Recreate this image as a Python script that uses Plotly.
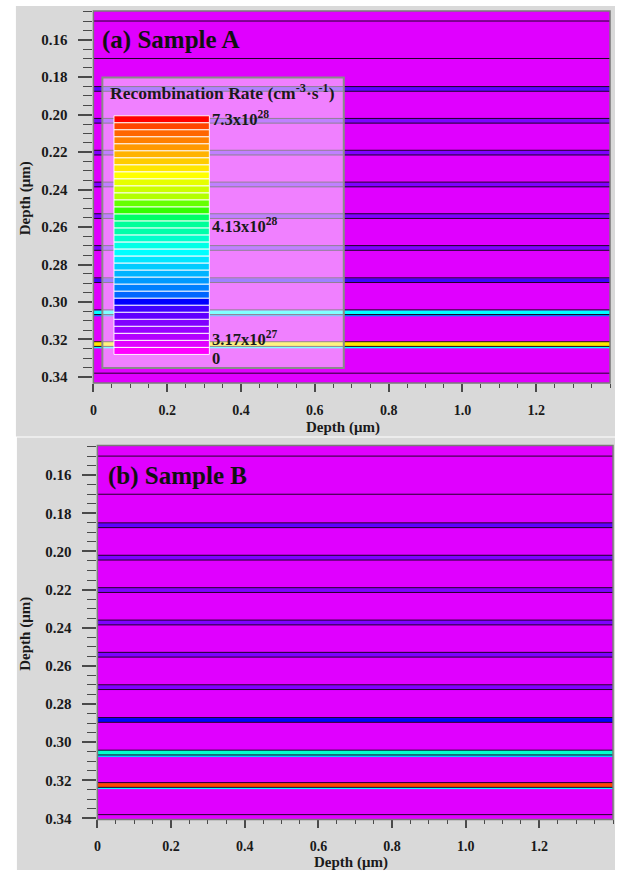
import plotly.graph_objects as go

W, H = 617, 877

# ---------------- data ----------------
x_extent = [0.0, 1.4]                       # lateral extent of the device (um)
region_lines = [0.1500, 0.1700, 0.3380]     # region boundaries other than the wells (um)
qw_top = [0.1850, 0.2020, 0.2190, 0.2360, 0.2529, 0.2699, 0.2871, 0.3042, 0.3212]  # well top depths (um)
qw_thick = 0.0025                           # well thickness (um)
tail_thick = 0.0009                         # thin interpolated layer below a well (um)
barrier_rate = 3.2e27                       # recombination rate in barriers (cm^-3 s^-1)

# recombination rate in each well (cm^-3 s^-1)
rate_a = [1.18e28, 0.95e28, 0.95e28, 0.95e28, 0.95e28, 0.95e28, 1.40e28, 3.10e28, 5.70e28]
rate_b = [1.18e28, 0.95e28, 0.95e28, 0.95e28, 0.95e28, 0.95e28, 1.60e28, 3.55e28, 6.95e28]
# rate just below each well (None = same as barrier)
tail_a = [None, None, None, None, None, None, None, 2.00e28, 3.10e28]
tail_b = [None, None, None, None, None, None, None, 2.60e28, 3.10e28]

rate_max = 7.3e28
legend_values = [7.3e28, 4.13e28, 3.17e27, 0.0]
legend_texts = ["7.3x10<sup>28</sup>", "4.13x10<sup>28</sup>", "3.17x10<sup>27</sup>", "0"]

# 34 colour levels, top (max) to bottom (0)
level_colors = [
    "#ff0000", "#ff4500", "#ff6600", "#ff8000", "#ff9900", "#ffb300", "#ffcc00", "#ffe600",
    "#ffff00", "#e6ff00", "#ccff00", "#b3ff00", "#66ff00", "#33ff00", "#00ff66", "#00ff99",
    "#00ffaa", "#00ffcc", "#00ffe6", "#00ffff", "#00e6ff", "#00ccff", "#00b3ff", "#0099ff",
    "#0080ff", "#0066ff", "#0000ff", "#4000ff", "#6000ff", "#8000ff", "#9900ff", "#b300ff",
    "#e000ff", "#ff00ff",
]

x_tickvals = [0, 0.2, 0.4, 0.6, 0.8, 1.0, 1.2]
x_ticktext = ["0", "0.2", "0.4", "0.6", "0.8", "1.0", "1.2"]

# ---------------- helpers ----------------
def px(x):
    return x / W


def py(y):
    return 1 - y / H


FONT = "Liberation Serif"

levels_up = level_colors[::-1]
n_lev = len(levels_up)
colorscale = []
for i, c in enumerate(levels_up):
    colorscale += [[i / n_lev, c], [(i + 1) / n_lev, c]]


def build_layers(rates, tails):
    edges = [0.14]
    z = []
    for top, r, t in zip(qw_top, rates, tails):
        edges.append(top)
        z.append(barrier_rate)
        edges.append(top + qw_thick)
        z.append(r)
        if t is not None:
            edges.append(top + qw_thick + tail_thick)
            z.append(t)
    edges.append(0.345)
    z.append(barrier_rate)
    return edges, [[v] for v in z]


def boundary_xy():
    depths = region_lines + qw_top + [t + qw_thick for t in qw_top]
    xs, ys = [], []
    for d in depths:
        xs += [x_extent[0], x_extent[1], None]
        ys += [d, d, None]
    return xs, ys


fig = go.Figure()
bx, by = boundary_xy()
for rates, tails, xa, ya in [(rate_a, tail_a, "x", "y"), (rate_b, tail_b, "x2", "y2")]:
    edges, z = build_layers(rates, tails)
    fig.add_trace(go.Heatmap(x=x_extent, y=edges, z=z, colorscale=colorscale, zmin=0, zmax=rate_max,
                             showscale=False, hoverinfo="skip", xaxis=xa, yaxis=ya))
    fig.add_trace(go.Scatter(x=bx, y=by, mode="lines", line=dict(color="#22002a", width=1),
                             hoverinfo="skip", showlegend=False, xaxis=xa, yaxis=ya))

xtickfont = dict(family=FONT, size=14, color="#1a1a1a", weight="bold")
ytickfont = dict(family=FONT, size=15, color="#1a1a1a", weight="bold")
tick_col = "#4a4a4a"


def xaxis_cfg(dom):
    return dict(domain=dom, range=x_extent, tickmode="array", tickvals=x_tickvals, ticktext=x_ticktext,
                ticks="outside", ticklen=8, tickwidth=1.5, tickcolor=tick_col,
                minor=dict(tickmode="linear", tick0=0, dtick=0.05, ticks="outside", ticklen=4,
                           tickwidth=1.2, tickcolor=tick_col),
                tickfont=xtickfont, showgrid=False, zeroline=False, showline=False, ticklabelstandoff=6)


def yaxis_cfg(dom, rng):
    return dict(domain=dom, range=rng, tickmode="linear", tick0=0, dtick=0.02, tickformat=".2f",
                ticks="outside", ticklen=14, tickwidth=1.5, tickcolor=tick_col,
                minor=dict(tickmode="linear", tick0=0, dtick=0.005, ticks="outside", ticklen=9,
                           tickwidth=1.2, tickcolor=tick_col),
                tickfont=ytickfont, showgrid=False, zeroline=False, showline=False, ticklabelstandoff=8)


shapes = [
    dict(type="rect", xref="paper", yref="paper", x0=px(12), x1=px(615), y0=py(440), y1=py(6),
         fillcolor="#d9d9d9", line=dict(width=0), layer="below"),
    dict(type="rect", xref="paper", yref="paper", x0=px(13), x1=px(615), y0=py(877), y1=py(441),
         fillcolor="#d9d9d9", line=dict(width=0), layer="below"),
    dict(type="rect", xref="x domain", yref="y domain", x0=0, x1=1, y0=0, y1=1,
         line=dict(color="#7a7a7a", width=1.5), layer="above"),
    dict(type="rect", xref="x2 domain", yref="y2 domain", x0=0, x1=1, y0=0, y1=1,
         line=dict(color="#7a7a7a", width=1.5), layer="above"),
    # legend box
    dict(type="rect", xref="paper", yref="paper", x0=px(99), x1=px(342), y0=py(371), y1=py(78),
         fillcolor="rgba(255,255,255,0.5)", line=dict(color="#8a8a8a", width=2), layer="above"),
]

# legend swatches
sw_left, sw_right, sw_top, sw_bot = 110.7, 206.7, 116.7, 357.3
sw_h = (sw_bot - sw_top) / len(level_colors)
for i, c in enumerate(level_colors):
    shapes.append(dict(type="rect", xref="paper", yref="paper", x0=px(sw_left), x1=px(sw_right),
                       y0=py(sw_top + (i + 1) * sw_h), y1=py(sw_top + i * sw_h),
                       fillcolor=c, line=dict(color="rgba(255,255,255,0.9)", width=1), layer="above"))

title_font = dict(family=FONT, size=15, color="#1a1a1a", weight="bold")
annotations = [
    dict(text="(a) Sample A", x=px(97), y=py(40), xref="paper", yref="paper", xanchor="left",
         yanchor="middle", showarrow=False, font=dict(family=FONT, size=25, color="#111", weight="bold")),
    dict(text="(b) Sample B", x=px(103), y=py(480), xref="paper", yref="paper", xanchor="left",
         yanchor="middle", showarrow=False, font=dict(family=FONT, size=25, color="#111", weight="bold")),
    dict(text="Recombination Rate (cm<sup>-3</sup>·s<sup>-1</sup>)", x=px(105), y=py(93), xref="paper",
         yref="paper", xanchor="left", yanchor="middle", showarrow=False,
         font=dict(family=FONT, size=17.5, color="#1a1a1a", weight="bold")),
    dict(text="Depth (μm)", x=px(341), y=py(431), xref="paper", yref="paper", showarrow=False,
         xanchor="center", yanchor="middle", font=title_font),
    dict(text="Depth (μm)", x=px(349), y=py(869), xref="paper", yref="paper", showarrow=False,
         xanchor="center", yanchor="middle", font=title_font),
    dict(text="Depth (μm)", x=px(22), y=py(200), xref="paper", yref="paper", showarrow=False,
         xanchor="center", yanchor="middle", textangle=-90, font=title_font),
    dict(text="Depth (μm)", x=px(22), y=py(639), xref="paper", yref="paper", showarrow=False,
         xanchor="center", yanchor="middle", textangle=-90, font=title_font),
]
# vertical nudges (px) that keep the colour-bar labels apart, as in the reference
label_nudge = [3, 6, -6, 4]
for v, t, dy in zip(legend_values, legend_texts, label_nudge):
    ypix = sw_bot - v / rate_max * (sw_bot - sw_top) + dy
    annotations.append(dict(text=t, x=px(207), y=py(ypix), xref="paper", yref="paper",
                            xanchor="left", yanchor="middle", showarrow=False,
                            font=dict(family=FONT, size=16.5, color="#1a1a1a", weight="bold")))

fig.update_layout(
    width=W, height=H, margin=dict(l=0, r=0, t=0, b=0),
    paper_bgcolor="white", plot_bgcolor="rgba(0,0,0,0)", showlegend=False,
    xaxis=xaxis_cfg([px(90), px(610)]),
    yaxis=yaxis_cfg([py(386), py(11)], [0.3432, 0.1446]),
    xaxis2=xaxis_cfg([px(94), px(613)]) | dict(anchor="y2"),
    yaxis2=yaxis_cfg([py(826), py(449)], [0.3405, 0.1444]) | dict(anchor="x2"),
    shapes=shapes, annotations=annotations,
)

fig.write_html("out.html")
